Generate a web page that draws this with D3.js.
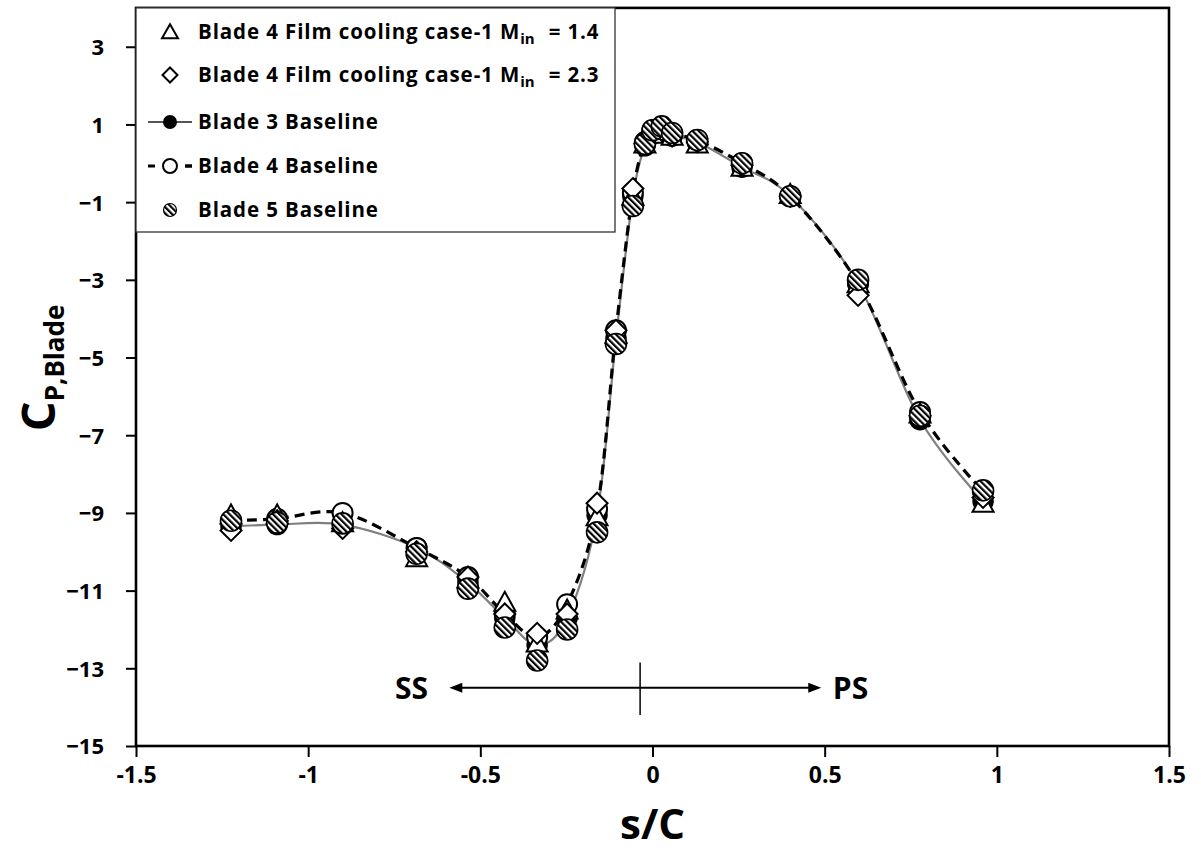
<!DOCTYPE html>
<html>
<head>
<meta charset="utf-8">
<script src="https://cdn.jsdelivr.net/npm/d3@7/dist/d3.min.js"></script>
<style>
  html, body { margin: 0; padding: 0; background: #fff; }
  svg { display: block; font-family: "Open Sans", Lato, sans-serif; font-weight: bold; }
</style>
</head>
<body>
<svg id="chart" width="1201" height="857"></svg>
<script>
// Blade surface pressure coefficient vs. normalised surface distance
const sC = [-1.224, -1.09, -0.90, -0.685, -0.536, -0.429, -0.335, -0.248, -0.161, -0.106,
            -0.057, -0.022, 0.0, 0.027, 0.057, 0.13, 0.26, 0.40, 0.597, 0.777, 0.96];

const film14 = [-9.05, -9.05, -9.25, -10.15, -10.7, -11.3, -12.35, -11.5, -9.1, -4.4,
                -0.85, 0.5, 0.75, 0.85, 0.7, 0.5, -0.1, -0.8, -3.1, -6.45, -8.75];
const film23 = [-9.45, -9.2, -9.4, -10.0, -10.65, -11.6, -12.1, -11.6, -8.75, -4.3,
                -0.65, 0.5, 0.8, 0.85, 0.7, 0.55, -0.05, -0.85, -3.4, -6.5, -8.6];
const blade3 = [-9.35, -9.3, -9.3, -9.9, -10.8, -11.7, -12.4, -11.7, -9.05, -4.5,
                -0.85, 0.45, 0.75, 0.85, 0.7, 0.55, -0.1, -0.85, -3.1, -6.6, -8.7];
const blade4 = [-9.2, -9.15, -9.0, -9.9, -10.65, -11.6, -12.2, -11.35, -8.9, -4.3,
                -0.75, 0.55, 0.85, 0.9, 0.75, 0.6, 0.0, -0.85, -3.1, -6.4, -8.45];
const blade5 = [-9.2, -9.25, -9.27, -10.05, -10.95, -11.95, -12.8, -12.0, -9.5, -4.65,
                -1.1, 0.5, 0.85, 0.95, 0.78, 0.6, 0.0, -0.85, -3.0, -6.5, -8.42];

const xTicks = [-1.5, -1, -0.5, 0, 0.5, 1, 1.5];
const xTickLabels = ["-1.5", "-1", "-0.5", "0", "0.5", "1", "1.5"];
const yTicks = [-15, -13, -11, -9, -7, -5, -3, -1, 1, 3];

// suction side / pressure side annotation (data units)
const sideArrowX = [-0.59, 0.49];
const sideArrowY = -13.5;
const leadingEdgeX = -0.036;
const leadingEdgeY = [-12.85, -14.2];
const sideLabels = [{ text: "SS", x: -0.70 }, { text: "PS", x: 0.575 }];

const legendLabels = [
  { main: "Blade 4 Film cooling case-1 M", sub: "in", tail: "= 1.4" },
  { main: "Blade 4 Film cooling case-1 M", sub: "in", tail: "= 2.3" },
  { main: "Blade 3 Baseline" },
  { main: "Blade 4 Baseline" },
  { main: "Blade 5 Baseline" }
];

const svg = d3.select("#chart");
const plot = { left: 136, right: 1169, top: 7.9, bottom: 746 };

const x = d3.scaleLinear().domain([-1.5, 1.5]).range([plot.left, plot.right]);
const y = d3.scaleLinear().domain([-15, 4]).range([plot.bottom, plot.top]);

// diagonal hatch used by the Blade 5 markers
const defs = svg.append("defs");
const pat = defs.append("pattern")
  .attr("id", "hatch").attr("patternUnits", "userSpaceOnUse")
  .attr("width", 4.4).attr("height", 4.4)
  .attr("patternTransform", "rotate(-45)");
pat.append("rect").attr("width", 4.4).attr("height", 4.4).attr("fill", "#fff");
pat.append("rect").attr("width", 2.2).attr("height", 4.4).attr("fill", "#000");

// marker shapes
const triPath = (w, h) => `M0,${-h * 0.55}L${w / 2},${h * 0.45}L${-w / 2},${h * 0.45}Z`;
const diaPath = r => `M0,${-r}L${r},0L0,${r}L${-r},0Z`;

// axes
const yAxis = d3.axisLeft(y).tickValues(yTicks).tickSize(10).tickPadding(22).tickFormat(d3.format("d"));
const xAxis = d3.axisBottom(x).tickValues(xTicks).tickSize(11).tickPadding(10)
  .tickFormat((d, i) => xTickLabels[i]);

const gy = svg.append("g").attr("transform", `translate(${plot.left},0)`).call(yAxis);
const gx = svg.append("g").attr("transform", `translate(0,${plot.bottom})`).call(xAxis);
[gx, gy].forEach(g => {
  g.select(".domain").remove();
  g.selectAll(".tick line").attr("stroke", "#000").attr("stroke-width", 2);
  g.selectAll(".tick text").attr("fill", "#000")
    .style("font-family", "'Open Sans', Lato, sans-serif").style("font-weight", "bold");
});
gy.selectAll(".tick text").attr("dy", "0.36em").style("font-size", "22px");
gx.selectAll(".tick text").style("font-size", "23px");

// plot frame
svg.append("rect")
  .attr("x", plot.left).attr("y", plot.top)
  .attr("width", plot.right - plot.left).attr("height", plot.bottom - plot.top)
  .attr("fill", "none").attr("stroke", "#000").attr("stroke-width", 2.6);

// axis titles
svg.append("text").attr("x", x(0)).attr("y", 839).attr("text-anchor", "middle")
  .style("font-size", "42px").text("s/C");

const yt = svg.append("text").attr("transform", "translate(55,368) rotate(-90)")
  .attr("text-anchor", "middle");
yt.append("tspan").style("font-size", "47px").text("C");
yt.append("tspan").style("font-size", "26px").attr("dy", 9).text("P,Blade");

// side annotation
svg.append("line")
  .attr("x1", x(sideArrowX[0]) + 10).attr("x2", x(sideArrowX[1]) - 10)
  .attr("y1", y(sideArrowY)).attr("y2", y(sideArrowY))
  .attr("stroke", "#000").attr("stroke-width", 2);
[[sideArrowX[0], 1], [sideArrowX[1], -1]].forEach(([ax, dir]) => {
  const tx = x(ax), ty = y(sideArrowY);
  svg.append("path")
    .attr("d", `M${tx},${ty}L${tx + dir * 13},${ty - 5}L${tx + dir * 13},${ty + 5}Z`)
    .attr("fill", "#000");
});
svg.append("line")
  .attr("x1", x(leadingEdgeX)).attr("x2", x(leadingEdgeX))
  .attr("y1", y(leadingEdgeY[0])).attr("y2", y(leadingEdgeY[1]))
  .attr("stroke", "#000").attr("stroke-width", 1.5);
svg.selectAll(".side").data(sideLabels).join("text")
  .attr("class", "side")
  .attr("x", d => x(d.x)).attr("y", y(sideArrowY) + 11)
  .attr("text-anchor", "middle").style("font-size", "30px")
  .text(d => d.text);

// data
const pts = vals => sC.map((s, i) => [s, vals[i]]);
const smooth = d3.line().x(d => x(d[0])).y(d => y(d[1])).curve(d3.curveCatmullRom.alpha(0));

const gData = svg.append("g");

// Blade 3 baseline: grey smoothed line, filled circles
gData.append("path").attr("d", smooth(pts(blade3)))
  .attr("fill", "none").attr("stroke", "#7f7f7f").attr("stroke-width", 2.2);
gData.selectAll(".b3").data(pts(blade3)).join("circle").attr("class", "b3")
  .attr("cx", d => x(d[0])).attr("cy", d => y(d[1])).attr("r", 10)
  .attr("fill", "#000").attr("stroke", "#000").attr("stroke-width", 1.5);

// Blade 4 baseline: black dashed line, open circles
gData.append("path").attr("d", smooth(pts(blade4)))
  .attr("fill", "none").attr("stroke", "#000").attr("stroke-width", 3.2)
  .attr("stroke-dasharray", "10,6");
gData.selectAll(".b4").data(pts(blade4)).join("circle").attr("class", "b4")
  .attr("cx", d => x(d[0])).attr("cy", d => y(d[1])).attr("r", 10)
  .attr("fill", "#fff").attr("stroke", "#000").attr("stroke-width", 2);

// film cooling M_in = 1.4: open triangles
gData.selectAll(".f14").data(pts(film14)).join("path").attr("class", "f14")
  .attr("transform", d => `translate(${x(d[0])},${y(d[1])})`)
  .attr("d", triPath(21, 19))
  .attr("fill", "#fff").attr("stroke", "#000").attr("stroke-width", 2);

// film cooling M_in = 2.3: open diamonds
gData.selectAll(".f23").data(pts(film23)).join("path").attr("class", "f23")
  .attr("transform", d => `translate(${x(d[0])},${y(d[1])})`)
  .attr("d", diaPath(10.5))
  .attr("fill", "#fff").attr("stroke", "#000").attr("stroke-width", 2);

// Blade 5 baseline: hatched circles
gData.selectAll(".b5").data(pts(blade5)).join("circle").attr("class", "b5")
  .attr("cx", d => x(d[0])).attr("cy", d => y(d[1])).attr("r", 10.5)
  .attr("fill", "url(#hatch)").attr("stroke", "#000").attr("stroke-width", 1.6);

// legend
const lg = svg.append("g");
lg.append("rect").attr("x", plot.left).attr("y", plot.top)
  .attr("width", 615 - plot.left).attr("height", 232 - plot.top)
  .attr("fill", "#fff").attr("stroke", "#333").attr("stroke-width", 1.3);

const rowY = [32, 75, 122, 166, 210];
const symX = 170, textX = 198;

lg.append("path").attr("transform", `translate(${symX},${rowY[0]})`)
  .attr("d", triPath(16, 14)).attr("fill", "#fff").attr("stroke", "#000").attr("stroke-width", 2);
lg.append("path").attr("transform", `translate(${symX},${rowY[1]})`)
  .attr("d", diaPath(7.5)).attr("fill", "#fff").attr("stroke", "#000").attr("stroke-width", 2);

lg.append("line").attr("x1", 148).attr("x2", 192).attr("y1", rowY[2]).attr("y2", rowY[2])
  .attr("stroke", "#555").attr("stroke-width", 2);
lg.append("circle").attr("cx", symX).attr("cy", rowY[2]).attr("r", 7).attr("fill", "#000");

lg.append("line").attr("x1", 148).attr("x2", 192).attr("y1", rowY[3]).attr("y2", rowY[3])
  .attr("stroke", "#000").attr("stroke-width", 3).attr("stroke-dasharray", "7,30");
lg.append("line").attr("x1", 185).attr("x2", 192).attr("y1", rowY[3]).attr("y2", rowY[3])
  .attr("stroke", "#000").attr("stroke-width", 3);
lg.append("circle").attr("cx", symX).attr("cy", rowY[3]).attr("r", 7)
  .attr("fill", "#fff").attr("stroke", "#000").attr("stroke-width", 2);

lg.append("circle").attr("cx", symX).attr("cy", rowY[4]).attr("r", 6.5)
  .attr("fill", "url(#hatch)").attr("stroke", "#000").attr("stroke-width", 1.2);

legendLabels.forEach((L, i) => {
  const t = lg.append("text").attr("x", textX).attr("y", rowY[i] + 7)
    .style("font-size", "20.5px").style("letter-spacing", "0.9px");
  t.append("tspan").text(L.main);
  if (L.sub) {
    t.append("tspan").style("font-size", "15px").style("letter-spacing", "0px").attr("dy", 5).text(L.sub);
    t.append("tspan").attr("dy", -5).attr("dx", 14).text(L.tail);
  }
});
</script>
</body>
</html>
